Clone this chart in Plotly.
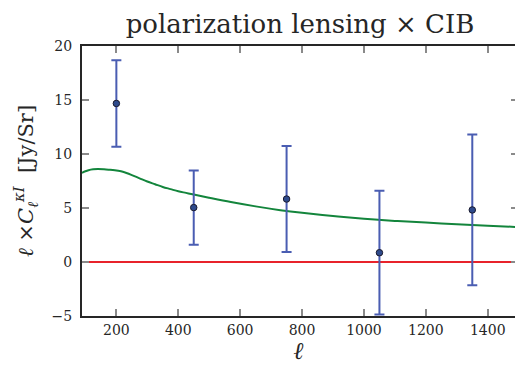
import plotly.graph_objects as go

# Binned cross-spectrum measurements
ell_bins = [200, 450, 750, 1050, 1350]
cl_vals = [14.68, 5.04, 5.83, 0.86, 4.82]
cl_errs = [4.0, 3.44, 4.91, 5.73, 6.98]

# Theory curve
ell_theory = [89, 100, 110, 125, 140, 160, 175, 195, 215, 235, 250, 275, 300, 325, 350,
              375, 400, 425, 450, 500, 570, 650, 730, 800, 900, 1000, 1100, 1200,
              1300, 1400, 1490]
cl_theory = [8.25, 8.4, 8.5, 8.58, 8.6, 8.58, 8.55, 8.5, 8.4, 8.22, 8.05, 7.75, 7.45,
             7.2, 6.95, 6.75, 6.55, 6.4, 6.25, 5.95, 5.55, 5.15, 4.8, 4.55, 4.25,
             4.0, 3.8, 3.65, 3.5, 3.35, 3.25]

x_range = [89, 1488]
y_range = [-5, 20]
x_ticks = [200, 400, 600, 800, 1000, 1200, 1400]
y_ticks = [-5, 0, 5, 10, 15, 20]

FONT = "DejaVu Serif"
SPINE = "#262626"
TICK = "#8a8a8a"

fig = go.Figure()

# zero line
fig.add_trace(go.Scatter(x=x_range, y=[0, 0], mode="lines",
                         line=dict(color="#e8232b", width=2), hoverinfo="skip"))

# theory curve
fig.add_trace(go.Scatter(x=ell_theory, y=cl_theory, mode="lines",
                         line=dict(color="#13853c", width=2, shape="spline")))

# measurements with error bars
fig.add_trace(go.Scatter(
    x=ell_bins, y=cl_vals, mode="markers",
    marker=dict(size=6.5, color="#2e4a8c", line=dict(color="#1a1a2e", width=1)),
    error_y=dict(type="data", array=cl_errs, visible=True,
                 color="#4a5db2", thickness=2, width=5),
))

# right-hand tick marks
fig.add_trace(go.Scatter(x=[None], y=[None], yaxis="y2", showlegend=False))

fig.update_layout(
    width=515, height=365,
    margin=dict(l=82, r=0, t=46, b=49),
    paper_bgcolor="white", plot_bgcolor="white",
    showlegend=False,
    title=dict(text="polarization lensing \u00d7 CIB",
               font=dict(family=FONT, size=26, color="#262626"),
               x=0.5825, xanchor="center", xref="container",
               y=1 - 24 / 365, yanchor="middle", yref="container"),
    xaxis=dict(range=x_range, tickvals=x_ticks, showgrid=False, zeroline=False,
               showline=True, linecolor=SPINE, linewidth=2, mirror="ticks",
               ticks="inside", ticklen=7, tickwidth=1.5, tickcolor=TICK,
               tickfont=dict(family=FONT, size=14, color="#262626"),
               title=dict(text="<i>\u2113</i>",
                          font=dict(family=FONT, size=24, color="#262626"),
                          standoff=2)),
    yaxis=dict(range=y_range, tickvals=y_ticks, showgrid=False, zeroline=False,
               showline=True, linecolor=SPINE, linewidth=2, mirror=False,
               ticks="inside", ticklen=7, tickwidth=1.5, tickcolor=TICK,
               ticklabelstandoff=5,
               tickfont=dict(family=FONT, size=14, color="#262626"),
               title=dict(text="<i>\u2113</i> \u00d7<i>C</i><sub><i>\u2113</i></sub><sup><i>\u03baI</i></sup>  [Jy/Sr]",
                          font=dict(family=FONT, size=21, color="#262626"),
                          standoff=12)),
    yaxis2=dict(matches="y", overlaying="y", side="right", showgrid=False,
                zeroline=False, showline=False, showticklabels=False,
                tickvals=y_ticks, ticks="inside", ticklen=4, tickwidth=1.5,
                tickcolor=TICK),
)

fig.write_html("out.html")
